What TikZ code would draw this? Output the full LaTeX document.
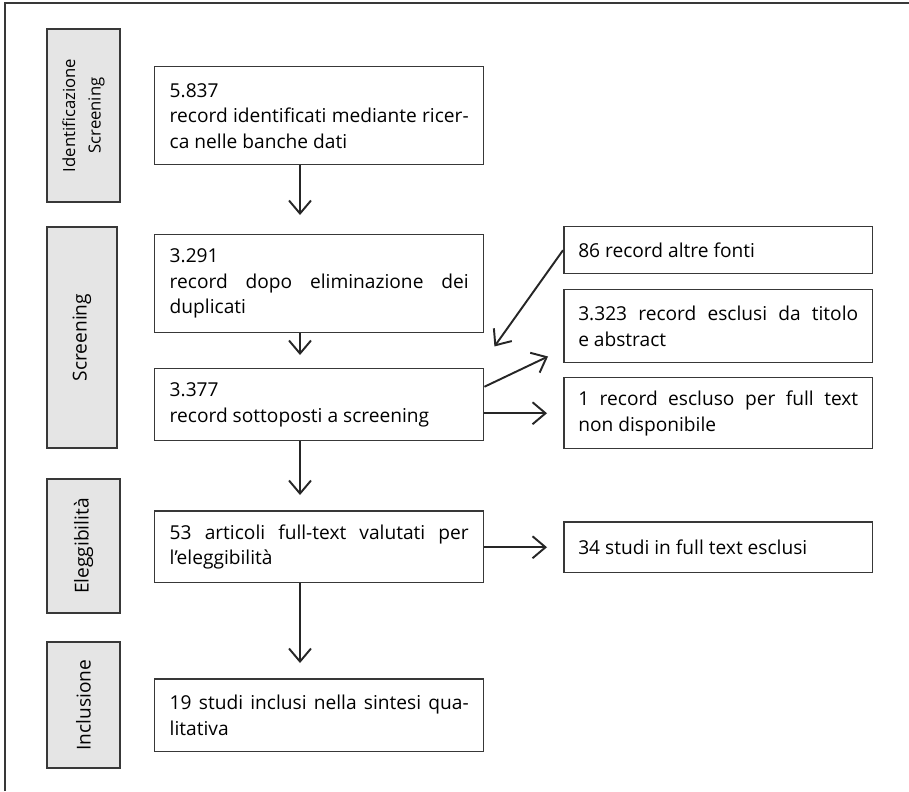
\documentclass[tikz,border=0pt]{standalone}
\usepackage{fontspec}
\setmainfont{Open Sans}
\usetikzlibrary{arrows.meta,positioning}
\definecolor{framegray}{gray}{0.22}
\definecolor{phasegray}{gray}{0.9}
\hyphenpenalty=10000

\begin{document}
\begin{tikzpicture}[x=0.02cm,y=-0.02cm,>={Straight Barb[length=2.6mm,width=4.4mm]},
  font=\fontsize{10.9}{14.5}\selectfont]
  \tikzstyle{phase}=[draw=framegray,line width=0.85pt,fill=phasegray,rotate=90,
  			  align=center,inner sep=0pt]
  \tikzstyle{record}=[draw=framegray,line width=0.85pt,anchor=north west,
  			  text width=5.98cm,inner xsep=0.3cm,inner ysep=0pt,align=justify]
  \tikzstyle{excluded}=[record,text width=5.6cm,inner xsep=0.29cm]
  \tikzstyle{flow}=[->,line width=1.1pt,draw=black!85]

  \useasboundingbox (0,0) rectangle (909,791);
  \draw[framegray,line width=0.6pt] (5,791) -- (5,3) -- (909,3);

  % fasi
  \node[phase,minimum width=3.46cm,minimum height=1.46cm,font=\fontsize{9.5}{14.5}\selectfont] (idphase) at (83.5,115.5) {Identificazione\\Screening};
  \node[phase,minimum width=4.42cm,minimum height=1.4cm] (scrphase) at (82,337.5) {Screening};
  \node[phase,minimum width=2.68cm,minimum height=1.46cm] (eligphase) at (83.5,546) {Eleggibilità};
  \node[phase,minimum width=2.52cm,minimum height=1.46cm] (inclphase) at (83.5,705) {Inclusione};

  % colonna principale
  \node[record,minimum height=1.96cm] (ident) at (154,66) {5.837\\record identificati mediante ricer-\linebreak ca nelle banche dati};
  \node[record,minimum height=1.96cm] (dup) at (154,234) {3.291\\record dopo eliminazione dei\linebreak duplicati};
  \node[record,minimum height=1.44cm] (screen) at (154,368) {3.377\\record sottoposti a screening};
  \node[record,minimum height=1.44cm] (elig) at (154,510) {53 articoli full-text valutati per\linebreak l’eleggibilità};
  \node[record,minimum height=1.46cm] (incl) at (154,678) {19 studi inclusi nella sintesi qua-\linebreak litativa};

  % colonna laterale
  \node[excluded,minimum height=0.94cm] (other) at (563,226) {86 record altre fonti};
  \node[excluded,minimum height=1.46cm] (tiabs) at (563,289) {3.323 record esclusi da titolo\linebreak e abstract};
  \node[excluded,minimum height=1.42cm] (nofull) at (563,377) {1 record escluso per full text\linebreak non disponibile};
  \node[excluded,minimum height=1.02cm] (ftexcl) at (563,521) {34 studi in full text esclusi};

  \coordinate (spine) at (300,0);
  \draw[flow,shorten >=0.38cm] (ident.south -| spine) -- (dup.north -| spine);
  \draw[flow,shorten >=0.26cm] (dup.south -| spine) -- (screen.north -| spine);
  \draw[flow,shorten >=0.3cm] (screen.south -| spine) -- (elig.north -| spine);
  \draw[flow,shorten >=0.3cm] (elig.south -| spine) -- (incl.north -| spine);

  \draw[flow] (other.west) -- ([shift={(10,13)}]dup.south east);
  \draw[flow] ([shift={(0,-18)}]screen.east) -- ([shift={(-15,-7)}]tiabs.south west);
  \draw[flow,shorten >=0.32cm] (screen.east |- nofull.west) -- (nofull.west);
  \draw[flow,shorten >=0.32cm] (elig.east |- ftexcl.west) -- (ftexcl.west);
\end{tikzpicture}
\end{document}
